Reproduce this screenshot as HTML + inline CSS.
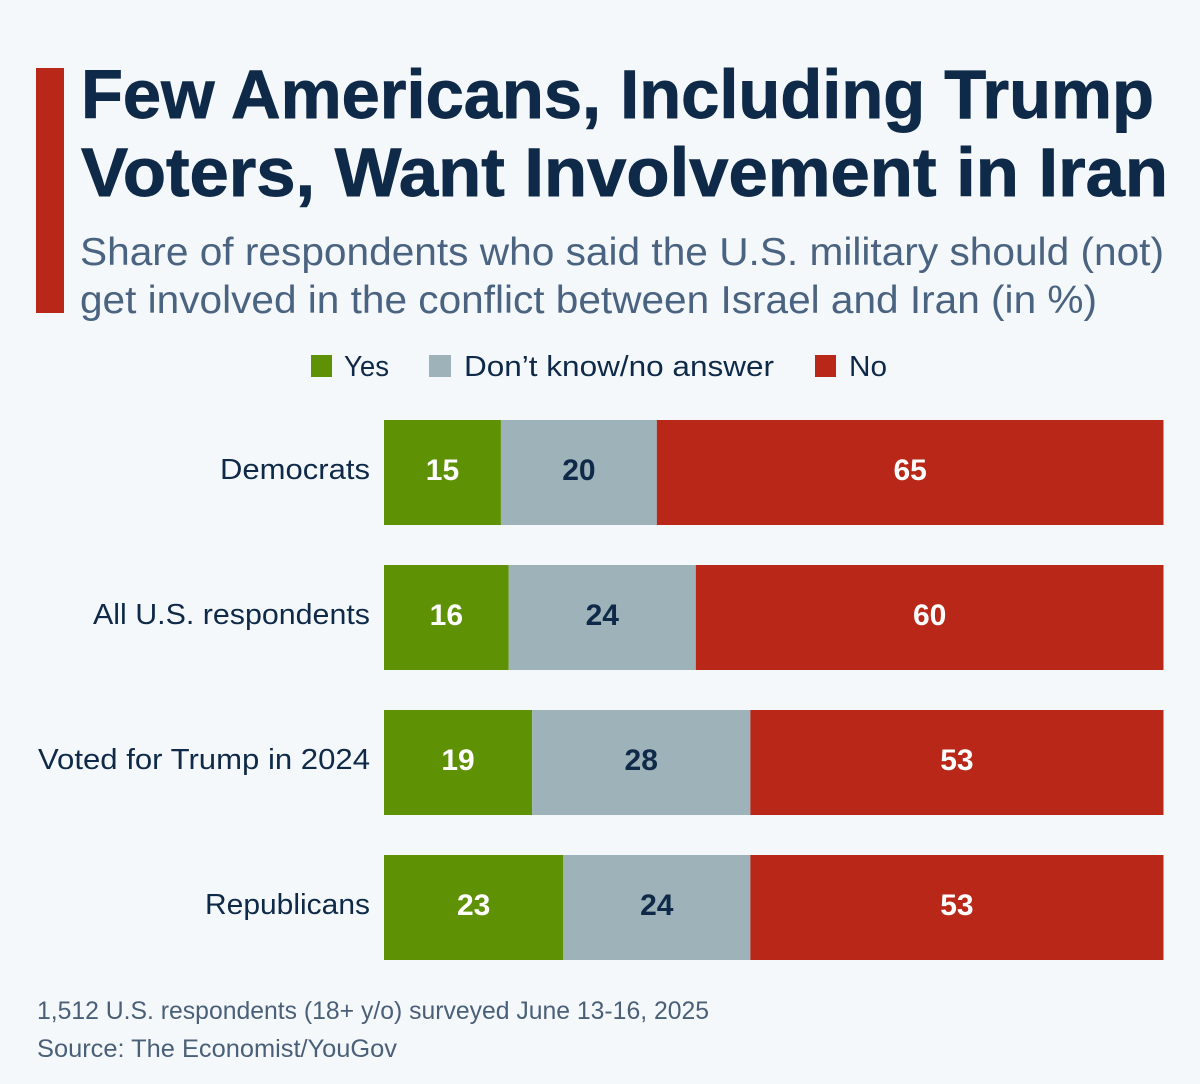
<!DOCTYPE html>
<html lang="en">
<head>
<meta charset="utf-8">
<title>Few Americans, Including Trump Voters, Want Involvement in Iran</title>
<style>
  html, body { margin: 0; padding: 0; background: #f5f8fb; }
  svg { display: block; font-family: "Liberation Sans", "DejaVu Sans", sans-serif; }
  .title { font-size: 69px; font-weight: 700; fill: #0f2a48; stroke: #0f2a48; stroke-width: 0.9px; }
  .sub { font-size: 39px; fill: #4a6380; }
  .legend { font-size: 29px; fill: #0f2a48; }
  .cat { font-size: 29px; fill: #0f2a48; }
  .val { font-size: 30px; font-weight: 700; }
  .foot { font-size: 25px; fill: #4a6078; }
</style>
</head>
<body>
<svg id="chart" xmlns="http://www.w3.org/2000/svg" width="1200" height="1084" viewBox="0 0 1200 1084">
  <rect x="0" y="0" width="1200" height="1084" fill="#f5f8fb"/>
  <rect x="36" y="68" width="28" height="245" fill="#b92718"/>
  <text class="title" x="81" y="118" textLength="1073" lengthAdjust="spacingAndGlyphs">Few Americans, Including Trump</text>
  <text class="title" x="81" y="196" textLength="1087" lengthAdjust="spacingAndGlyphs">Voters, Want Involvement in Iran</text>
  <text class="sub" x="80" y="265" textLength="1084" lengthAdjust="spacingAndGlyphs">Share of respondents who said the U.S. military should (not)</text>
  <text class="sub" x="80" y="313" textLength="1017" lengthAdjust="spacingAndGlyphs">get involved in the conflict between Israel and Iran (in %)</text>

  <g>
    <rect x="311" y="355" width="21" height="22" fill="#5e9104"/>
    <text class="legend" x="344" y="376" textLength="45" lengthAdjust="spacingAndGlyphs">Yes</text>
    <rect x="429" y="355" width="22" height="22" fill="#9eb2ba"/>
    <text class="legend" x="464" y="376" textLength="310" lengthAdjust="spacingAndGlyphs">Don’t know/no answer</text>
    <rect x="815" y="355" width="21" height="22" fill="#b92718"/>
    <text class="legend" x="849" y="376" textLength="38" lengthAdjust="spacingAndGlyphs">No</text>
  </g>

  <g id="plot"></g>

  <text class="foot" x="37" y="1019" textLength="672" lengthAdjust="spacingAndGlyphs">1,512 U.S. respondents (18+ y/o) surveyed June 13-16, 2025</text>
  <text class="foot" x="37" y="1057" textLength="360" lengthAdjust="spacingAndGlyphs">Source: The Economist/YouGov</text>
</svg>
<script>
const categories = ["Democrats", "All U.S. respondents", "Voted for Trump in 2024", "Republicans"];
const yesValues = [15, 16, 19, 23];
const dontKnowValues = [20, 24, 28, 24];
const noValues = [65, 60, 53, 53];

const SVG_NS = "http://www.w3.org/2000/svg";
const plot = document.getElementById("plot");
const xScale = v => 384 + (v / 100) * 779.5;
const yScale = i => 420 + i * 145;
const barHeight = 105;
const labelWidths = {
  "Democrats": 150,
  "All U.S. respondents": 277,
  "Voted for Trump in 2024": 332,
  "Republicans": 165
};
const seriesList = [
  { key: "yes", values: yesValues, fill: "#5e9104", text: "#ffffff" },
  { key: "dont-know", values: dontKnowValues, fill: "#9eb2ba", text: "#0f2a48" },
  { key: "no", values: noValues, fill: "#b92718", text: "#ffffff" }
];

categories.forEach((category, i) => {
  const y = yScale(i);
  const label = document.createElementNS(SVG_NS, "text");
  
  
  label.setAttribute("class", "cat");
  label.setAttribute("x", 370 - labelWidths[category]);
  label.setAttribute("y", y + 59);
  label.setAttribute("textLength", labelWidths[category]);
  label.setAttribute("lengthAdjust", "spacingAndGlyphs");
  label.textContent = category;
  plot.appendChild(label);

  let cumulative = 0;
  seriesList.forEach(series => {
    const value = series.values[i];
    const x0 = xScale(cumulative);
    const x1 = xScale(cumulative + value);
    const bar = document.createElementNS(SVG_NS, "rect");
    
    
    bar.setAttribute("x", x0);
    bar.setAttribute("y", y);
    bar.setAttribute("width", x1 - x0);
    bar.setAttribute("height", barHeight);
    bar.setAttribute("fill", series.fill);
    plot.appendChild(bar);

    const valueLabel = document.createElementNS(SVG_NS, "text");
    
    
    valueLabel.setAttribute("class", "val");
    valueLabel.setAttribute("x", (x0 + x1) / 2);
    valueLabel.setAttribute("y", y + 60);
    valueLabel.setAttribute("text-anchor", "middle");
    valueLabel.setAttribute("fill", series.text);
    valueLabel.textContent = value;
    plot.appendChild(valueLabel);

    cumulative += value;
  });
});
</script>
</body>
</html>
